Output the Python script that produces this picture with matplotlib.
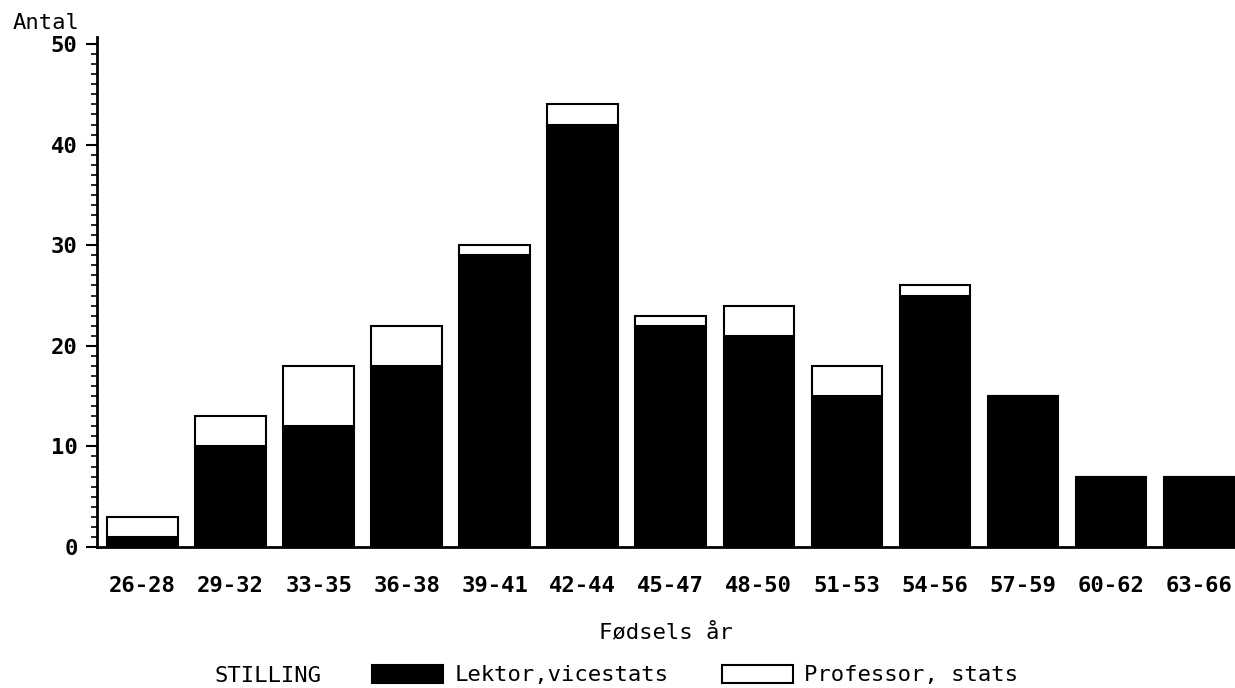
import matplotlib
matplotlib.use("Agg")
import matplotlib.pyplot as plt
from matplotlib.ticker import MultipleLocator
import numpy as np

# data
groups = ["26-28", "29-32", "33-35", "36-38", "39-41", "42-44", "45-47",
          "48-50", "51-53", "54-56", "57-59", "60-62", "63-66"]
lektor = [1, 10, 12, 18, 29, 42, 22, 21, 15, 25, 15, 7, 7]
professor = [2, 3, 6, 4, 1, 2, 1, 3, 3, 1, 0, 0, 0]

plt.rcParams['font.family'] = ['DejaVu Sans Mono']
fs = 16

fig = plt.figure(figsize=(12.35, 6.88), dpi=100)
ax = fig.add_axes([97 / 1235, 141 / 688, 1 - 97 / 1235, 510 / 688])

x = np.arange(len(groups))
b1 = ax.bar(x, lektor, width=0.8, color="black", edgecolor="black",
            linewidth=1.5, label="Lektor,vicestats")
b2 = ax.bar(x, professor, width=0.8, bottom=lektor, color="white",
            edgecolor="black", linewidth=1.5, label="Professor, stats")

ax.set_xlim(-0.517, 12.41)
ax.set_ylim(0, 50.7)
ax.yaxis.set_major_locator(MultipleLocator(10))
ax.yaxis.set_minor_locator(MultipleLocator(1))
ax.set_xticks(x)
ax.set_xticklabels(groups, fontsize=fs, fontweight="bold")
for lab in ax.get_yticklabels():
    lab.set_fontsize(fs)
    lab.set_fontweight("bold")
ax.tick_params(axis="x", length=0, pad=21)
ax.tick_params(axis="y", which="major", length=8, width=1.5, pad=6)
ax.tick_params(axis="y", which="minor", length=4, width=1.2)

for s in ["top", "right"]:
    ax.spines[s].set_visible(False)
ax.spines["left"].set_linewidth(2)
ax.spines["bottom"].set_linewidth(2)

ax.set_xlabel("Fødsels år", fontsize=fs, va="center")
ax.xaxis.set_label_coords(0.5, (547 - 632) / 510)

fig.text(13 / 1235, 1 - 23 / 688, "Antal", fontsize=fs, ha="left", va="center")
fig.text(215 / 1235, 1 - 676 / 688, "STILLING", fontsize=fs, ha="left", va="center")

fig.legend(handles=[b1, b2], loc="center left",
           bbox_to_anchor=(372 / 1235, 1 - 675 / 688), ncol=2, frameon=False,
           fontsize=fs, handlelength=3.2, handleheight=0.9, handletextpad=0.5,
           columnspacing=2.4, borderpad=0, borderaxespad=0)

fig.savefig("out.png", dpi=100)
